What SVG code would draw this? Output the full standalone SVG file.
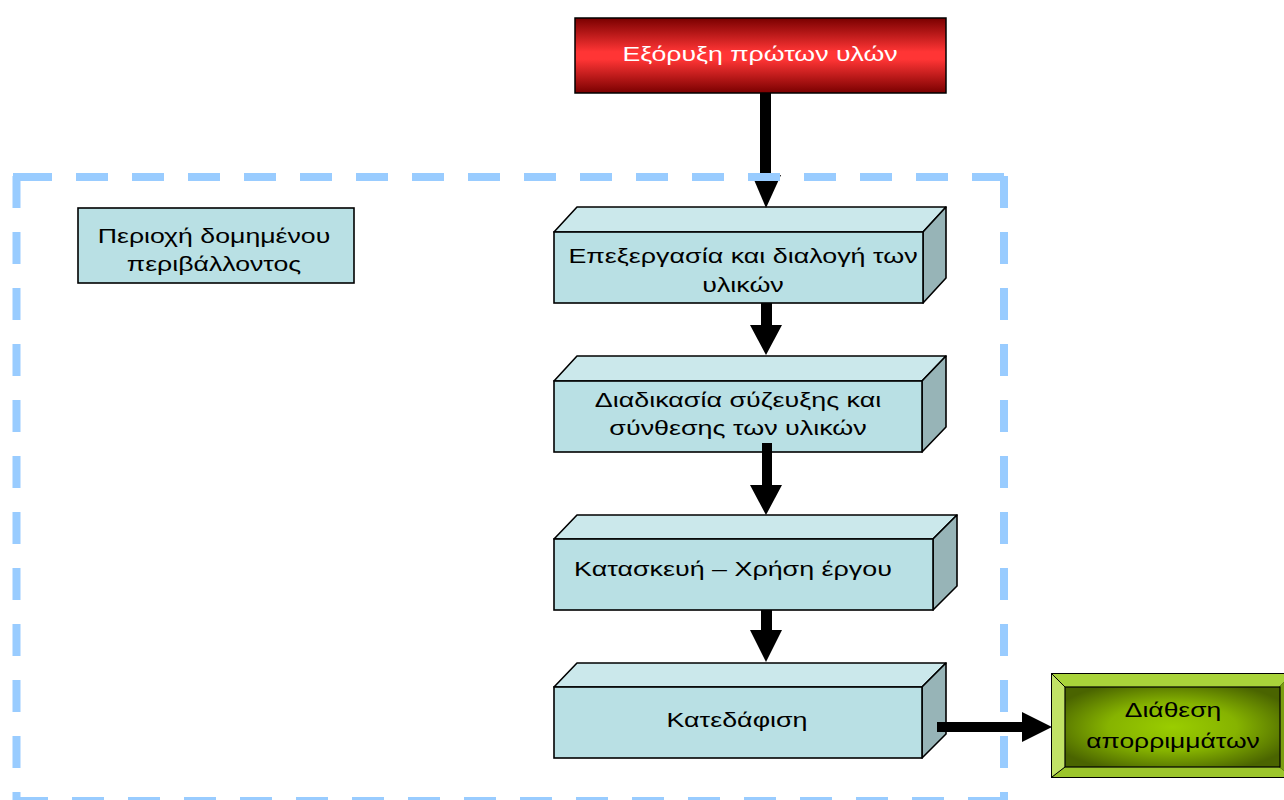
<svg xmlns="http://www.w3.org/2000/svg" width="1284" height="800" viewBox="0 0 1284 800">
<defs>
<linearGradient id="redG" x1="0" y1="0" x2="0" y2="1">
<stop offset="0" stop-color="#7a0000"/>
<stop offset="0.45" stop-color="#ff3535"/>
<stop offset="0.55" stop-color="#ff3535"/>
<stop offset="1" stop-color="#7a0000"/>
</linearGradient>
<radialGradient id="greenG" cx="0.5" cy="0.5" r="0.6">
<stop offset="0" stop-color="#9acd00"/>
<stop offset="0.5" stop-color="#86b300"/>
<stop offset="1" stop-color="#4a6400"/>
</radialGradient>
<style>
text{font-family:"Liberation Sans",Arial,sans-serif;font-size:21px;fill:#000;text-anchor:middle}
.front{fill:#b9e0e4;stroke:#000;stroke-width:1.6}
.top{fill:#cbe8eb;stroke:#000;stroke-width:1.6;stroke-linejoin:round}
.side{fill:#97b4b7;stroke:#000;stroke-width:1.6;stroke-linejoin:round}
.arr{fill:#000}
.dash{stroke:#99ccff;stroke-width:8;stroke-dasharray:32 24;fill:none}
</style>
</defs>
<g id="n-extraction">
<rect x="575" y="18" width="371" height="75" fill="url(#redG)" stroke="#000" stroke-width="1.5"/>
<text transform="matrix(1.27 0 0 1 760 61)" style="fill:#fff">Εξόρυξη πρώτων υλών</text>
</g>
<g id="n-area-label">
<rect x="78" y="208" width="276" height="75" class="front"/>
<text transform="matrix(1.27 0 0 1 214 243)">Περιοχή δομημένου</text>
<text transform="matrix(1.27 0 0 1 214 271)">περιβάλλοντος</text>
</g>
<g id="n-processing">
<polygon class="top" points="554,232 577,207 946,207 923,232"/>
<polygon class="side" points="923,232 946,207 946,278 923,303"/>
<rect class="front" x="554" y="232" width="369" height="71"/>
<text transform="matrix(1.28 0 0 1 743 263)">Επεξεργασία και διαλογή των</text>
<text transform="matrix(1.28 0 0 1 743 292)">υλικών</text>
</g>
<g id="n-composition">
<polygon class="top" points="554,381 577,356 946,356 922,381"/>
<polygon class="side" points="922,381 946,356 946,427 922,452"/>
<rect class="front" x="554" y="381" width="368" height="71"/>
<text transform="matrix(1.28 0 0 1 738 407)">Διαδικασία σύζευξης και</text>
<text transform="matrix(1.28 0 0 1 738 435)">σύνθεσης των υλικών</text>
</g>
<g id="n-construction">
<polygon class="top" points="554,539 577,515 957,515 933,539"/>
<polygon class="side" points="933,539 957,515 957,586 933,610"/>
<rect class="front" x="554" y="539" width="379" height="71"/>
<text transform="matrix(1.28 0 0 1 733 576)">Κατασκευή – Χρήση έργου</text>
</g>
<g id="n-demolition">
<polygon class="top" points="554,687 577,663 946,663 922,687"/>
<polygon class="side" points="922,687 946,663 946,734 922,758"/>
<rect class="front" x="554" y="687" width="368" height="71"/>
<text transform="matrix(1.28 0 0 1 737 727)">Κατεδάφιση</text>
</g>
<g id="n-disposal">
<rect x="1051" y="673" width="242" height="105" fill="#000"/>
<polygon points="1052,674 1292,674 1279,687 1065,687" fill="#a9d33a"/>
<polygon points="1052,674 1065,687 1065,767 1052,777" fill="#c2e266"/>
<polygon points="1052,777 1065,767 1279,767 1292,777" fill="#9cc52c"/>
<polygon points="1292,674 1292,777 1279,767 1279,687" fill="#7a9e10"/>
<rect x="1065" y="687" width="215" height="80" fill="url(#greenG)" stroke="#000" stroke-width="1.2"/>
<line x1="1052" y1="674" x2="1065" y2="687" stroke="#000" stroke-width="1"/>
<line x1="1052" y1="777" x2="1065" y2="767" stroke="#000" stroke-width="1"/>
<text transform="matrix(1.26 0 0 1 1173 717)">Διάθεση</text>
<text transform="matrix(1.26 0 0 1 1173 748)">απορριμμάτων</text>
</g>
<g id="connectors">
<rect class="arr" x="760" y="93" width="11" height="83"/>
<polygon class="arr" points="752,175 781,175 766,208"/>
<rect class="arr" x="761" y="303" width="11" height="23"/>
<polygon class="arr" points="750,325 782,325 766,355"/>
<rect class="arr" x="762" y="443" width="10" height="43"/>
<polygon class="arr" points="750,485 782,485 766,515"/>
<rect class="arr" x="761" y="610" width="11" height="21"/>
<polygon class="arr" points="750,630 782,630 766,662"/>
<rect class="arr" x="937" y="722" width="86" height="10"/>
<polygon class="arr" points="1022,712 1022,742 1052,727"/>
</g>
<g id="boundary">
<line class="dash" x1="20" y1="177" x2="1008" y2="177"/>
<line class="dash" x1="16.5" y1="176" x2="16.5" y2="804"/>
<line class="dash" x1="1004" y1="176" x2="1004" y2="804"/>
<line class="dash" x1="16" y1="801" x2="1008" y2="801"/>
<line class="dash" x1="13" y1="801" x2="48" y2="801" style="stroke-dasharray:none"/>
<line class="dash" x1="13" y1="177" x2="20" y2="177" style="stroke-dasharray:none"/>
</g>
</svg>
